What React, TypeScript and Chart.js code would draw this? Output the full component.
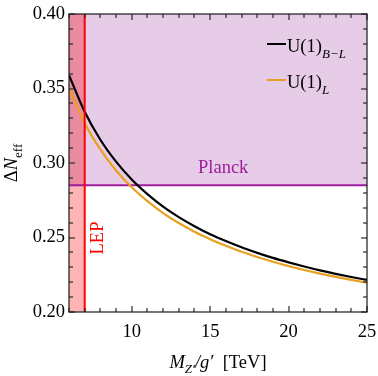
import React, { useEffect, useRef } from "react";
import { Chart, registerables } from "chart.js";

Chart.register(...registerables);

// ---- data ----
const massTeV = [6, 7, 8, 9, 10, 11, 12, 13, 14, 15, 16, 17, 18, 19, 20, 21, 22, 23, 24, 25];
const dNeffBL = [0.359, 0.3344, 0.3156, 0.3009, 0.2889, 0.2791, 0.2707, 0.2637, 0.2576, 0.2522, 0.2476, 0.2434, 0.2397, 0.2363, 0.2333, 0.2305, 0.2279, 0.2256, 0.2235, 0.2215];
const dNeffL = [0.3503, 0.3269, 0.3091, 0.295, 0.2837, 0.2744, 0.2664, 0.2597, 0.2539, 0.2489, 0.2444, 0.2404, 0.2369, 0.2337, 0.2308, 0.2282, 0.2258, 0.2236, 0.2216, 0.2197];
const xTickValues = [10, 15, 20, 25];
const yTickValues = [0.2, 0.25, 0.3, 0.35, 0.4];
const xMinorStep = 1;
const yMinorStep = 0.01;
const xRange = [6, 25];
const yRange = [0.2, 0.4];
const planckLimit = 0.285;
const lepLimit = 7;

const SERIF = "'Liberation Serif', 'DejaVu Serif', serif";
const FS = 18.5;
const FSUB = 13;
const f = (size: number, italic = false) => `${italic ? "italic " : ""}${size}px ${SERIF}`;

type Seg = { t: string; font: string; dy?: number };

function segWidth(ctx: CanvasRenderingContext2D, segs: Seg[]) {
  let w = 0;
  for (const s of segs) {
    ctx.font = s.font;
    w += ctx.measureText(s.t).width;
  }
  return w;
}

function drawSegs(ctx: CanvasRenderingContext2D, segs: Seg[], x: number, y: number) {
  let cx = x;
  for (const s of segs) {
    ctx.font = s.font;
    ctx.fillText(s.t, cx, y + (s.dy || 0));
    cx += ctx.measureText(s.t).width;
  }
}

function drawTickMarks(chart: any) {
  const { ctx, chartArea: a, scales } = chart;
  const x = scales.x;
  const y = scales.y;
  ctx.save();
  ctx.fillStyle = "#2a2a2a";
  const nx = Math.round((xRange[1] - xRange[0]) / xMinorStep);
  for (let i = 0; i <= nx; i++) {
    const v = xRange[0] + i * xMinorStep;
    const px = Math.round(x.getPixelForValue(v));
    const len = Math.abs(v % 5) < 1e-9 ? 6 : 4;
    ctx.fillRect(px - 0.6, a.bottom - len, 1.2, len);
    ctx.fillRect(px - 0.6, a.top, 1.2, len);
  }
  const ny = Math.round((yRange[1] - yRange[0]) / yMinorStep);
  for (let i = 0; i <= ny; i++) {
    const v = yRange[0] + i * yMinorStep;
    const py = Math.round(y.getPixelForValue(v));
    const len = i % 5 === 0 ? 6 : 4;
    ctx.fillRect(a.left, py - 0.6, len, 1.2);
    ctx.fillRect(a.right - len, py - 0.6, len, 1.2);
  }
  // frame
  ctx.strokeStyle = "#1a1a1a";
  ctx.lineWidth = 1.2;
  ctx.strokeRect(a.left, a.top, a.right - a.left, a.bottom - a.top);
  ctx.restore();
}

const decorPlugin = {
  id: "decor",
  beforeDatasetsDraw(chart: any) {
    const { ctx, chartArea: a, scales } = chart;
    const x = scales.x;
    const y = scales.y;
    const yp = y.getPixelForValue(planckLimit);
    const xl = x.getPixelForValue(lepLimit);
    ctx.save();
    ctx.fillStyle = "#e6cce6";
    ctx.fillRect(a.left, a.top, a.right - a.left, yp - a.top);
    ctx.fillStyle = "#ffb5b5";
    ctx.fillRect(a.left, yp, xl - a.left, a.bottom - yp);
    ctx.fillStyle = "#e88ba0";
    ctx.fillRect(a.left, a.top, xl - a.left, yp - a.top);
    ctx.restore();
  },
  afterDatasetsDraw(chart: any) {
    const { ctx, scales } = chart;
    const x = scales.x;
    const y = scales.y;
    ctx.save();
    ctx.fillStyle = "#9c1c9c";
    ctx.font = f(FS);
    ctx.textBaseline = "alphabetic";
    ctx.textAlign = "left";
    ctx.fillText("Planck", 198, y.getPixelForValue(planckLimit) - 12);
    ctx.fillStyle = "#ff0000";
    ctx.translate(x.getPixelForValue(lepLimit) + 13, 238);
    ctx.rotate(-Math.PI / 2);
    ctx.textAlign = "center";
    ctx.textBaseline = "middle";
    ctx.fillText("LEP", 0, 0);
    ctx.restore();
  },
  afterDraw(chart: any) {
    const { ctx, chartArea: a } = chart;
    drawTickMarks(chart);
    ctx.save();
    ctx.fillStyle = "#000";
    ctx.textBaseline = "alphabetic";
    ctx.textAlign = "left";

    const xt: Seg[] = [
      { t: "M", font: f(FS, true) },
      { t: "Z\u2032", font: f(FSUB, true), dy: 5 },
      { t: "/g\u2032", font: f(FS, true) },
      { t: "  [TeV]", font: f(FS) },
    ];
    const xw = segWidth(ctx, xt);
    drawSegs(ctx, xt, (a.left + a.right) / 2 - xw / 2, 368);

    const yt: Seg[] = [
      { t: "\u0394", font: f(FS) },
      { t: "N", font: f(FS, true) },
      { t: "eff", font: f(FSUB), dy: 5 },
    ];
    const yw = segWidth(ctx, yt);
    ctx.save();
    ctx.translate(17, (a.top + a.bottom) / 2);
    ctx.rotate(-Math.PI / 2);
    drawSegs(ctx, yt, -yw / 2, 0);
    ctx.restore();

    const legend = [
      { color: "#000000", segs: [{ t: "U(1)", font: f(FS) }, { t: "B\u2212L", font: f(FSUB, true), dy: 6 }] as Seg[], yc: 44 },
      { color: "#e8a020", segs: [{ t: "U(1)", font: f(FS) }, { t: "L", font: f(FSUB, true), dy: 6 }] as Seg[], yc: 80 },
    ];
    for (const l of legend) {
      ctx.strokeStyle = l.color;
      ctx.lineWidth = 2;
      ctx.beginPath();
      ctx.moveTo(267, l.yc);
      ctx.lineTo(286, l.yc);
      ctx.stroke();
      ctx.fillStyle = "#000";
      drawSegs(ctx, l.segs, 287, l.yc + 8);
    }
    ctx.restore();
  },
};

export default function App() {
  const ref = useRef<HTMLCanvasElement | null>(null);
  useEffect(() => {
    if (!ref.current) return;
    const chart = new Chart(ref.current, {
      type: "line",
      data: {
        datasets: [
          { label: "LEP", data: [{ x: lepLimit, y: yRange[0] }, { x: lepLimit, y: yRange[1] }], borderColor: "#ff0000", borderWidth: 2, pointRadius: 0, order: 0 },
          { label: "U(1)_B-L", data: massTeV.map((m, i) => ({ x: m, y: dNeffBL[i] })), borderColor: "#000000", borderWidth: 2.2, pointRadius: 0, cubicInterpolationMode: "monotone", order: 1 },
          { label: "U(1)_L", data: massTeV.map((m, i) => ({ x: m, y: dNeffL[i] })), borderColor: "#e8a020", borderWidth: 2.2, pointRadius: 0, cubicInterpolationMode: "monotone", order: 2 },
          { label: "Planck", data: [{ x: xRange[0], y: planckLimit }, { x: xRange[1], y: planckLimit }], borderColor: "#9c1c9c", borderWidth: 2, pointRadius: 0, order: 3 },
        ],
      },
      options: {
        animation: false,
        responsive: false,
        events: [],
        layout: { padding: { top: 14, right: 11, left: 0, bottom: 0 } },
        plugins: { legend: { display: false }, tooltip: { enabled: false } },
        scales: {
          x: {
            type: "linear", min: xRange[0], max: xRange[1],
            grid: { display: false, drawTicks: false },
            border: { display: false },
            afterBuildTicks: (s: any) => { s.ticks = xTickValues.map((v) => ({ value: v })); },
            afterFit: (s: any) => { s.height = 64; s.paddingLeft = 0; s.paddingRight = 0; },
            ticks: { padding: 9, color: "#000", font: { family: SERIF, size: FS }, maxRotation: 0, callback: (v: any) => String(v) },
          },
          y: {
            type: "linear", min: yRange[0], max: yRange[1],
            grid: { display: false, drawTicks: false },
            border: { display: false },
            afterBuildTicks: (s: any) => { s.ticks = yTickValues.map((v) => ({ value: v })); },
            afterFit: (s: any) => { s.width = 69; s.paddingTop = 0; s.paddingBottom = 0; },
            ticks: { padding: 4, color: "#000", font: { family: SERIF, size: FS }, callback: (v: any) => Number(v).toFixed(2) },
          },
        },
      },
      plugins: [decorPlugin],
    } as any);
    return () => chart.destroy();
  }, []);
  return (
    <div style={{ position: "fixed", left: 0, top: 0, width: 378, height: 376, background: "#fff" }}>
      <canvas ref={ref} width={378} height={376} />
    </div>
  );
}
